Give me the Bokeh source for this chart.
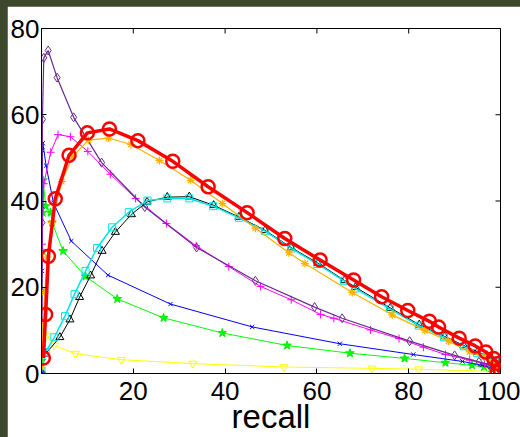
import math
from bokeh.plotting import figure
from bokeh.models import Range1d, FixedTicker, GlobalInlineStyleSheet
from bokeh.embed import file_html
from bokeh.resources import INLINE

# ---- data (recall %, precision %) ----
red_x = [0.4, 0.9, 1.5, 3.0, 6.0, 10.0, 14.8, 21.0, 28.6, 36.3, 44.8, 53.0, 60.7, 68.0, 74.1, 79.8, 84.5, 86.5, 91.0, 94.5, 96.8, 98.5, 99.5, 100.0, 99.3]
red_y = [3.6, 13.7, 27.2, 40.5, 50.6, 55.8, 56.7, 54.0, 49.2, 43.3, 37.3, 31.3, 26.3, 21.7, 17.8, 14.6, 12.1, 10.8, 8.2, 6.4, 5.0, 3.5, 2.3, 0.8, 0.3]

orange_x = [0.0, 0.1, 0.4, 0.7, 1.3, 2.3, 4.4, 6.8, 10.2, 14.6, 19.5, 25.7, 32.5, 39.4, 46.6, 53.9, 57.4, 67.7, 76.4, 83.5, 88.7, 93.3, 96.4, 98.5, 99.5]
orange_y = [1.4, 5.0, 11.1, 18.8, 27.0, 35.0, 44.5, 50.3, 54.1, 54.6, 53.1, 49.4, 44.8, 39.4, 33.7, 28.0, 25.5, 18.8, 13.6, 10.0, 7.5, 5.0, 3.8, 2.7, 1.5]

cyan_x = [0.0, 0.9, 2.8, 5.1, 7.2, 9.6, 12.1, 15.4, 19.0, 23.1, 27.4, 32.2, 37.4, 43.0, 48.7, 54.4, 60.1, 65.9, 68.4, 75.9, 82.2, 87.7, 92.0, 94.9, 97.1, 98.8, 99.5]
cyan_y = [0.5, 5.0, 8.4, 13.3, 18.4, 23.8, 29.1, 33.9, 37.4, 40.1, 40.6, 40.6, 38.8, 36.1, 33.0, 29.0, 25.4, 21.5, 19.7, 15.0, 11.1, 8.4, 6.3, 4.8, 4.0, 2.7, 1.5]

black_x = [0.0, 0.9, 4.0, 6.2, 8.3, 10.7, 13.2, 16.1, 19.6, 23.0, 27.4, 32.2, 37.5, 43.0, 48.7, 54.4, 60.2, 66.0, 68.4, 76.0, 82.3, 87.8, 92.0, 95.0, 97.0, 98.8, 99.5]
black_y = [0.5, 4.6, 8.4, 12.5, 17.7, 22.7, 28.4, 32.8, 36.9, 39.8, 40.9, 41.0, 39.0, 36.3, 33.2, 29.2, 25.6, 21.6, 20.0, 15.2, 11.3, 8.6, 6.5, 5.0, 4.1, 2.8, 1.5]

purple_x = [0.0, 0.1, 0.2, 0.5, 1.45, 3.4, 7.0, 13.1, 22.5, 33.8, 46.6, 59.5, 65.5, 80.2, 90.0, 95.3, 97.5, 98.5]
purple_y = [0.0, 35.0, 58.9, 73.2, 74.9, 68.6, 59.4, 48.9, 38.6, 29.2, 21.5, 15.4, 12.8, 7.5, 4.2, 2.7, 2.0, 1.2]

magenta_x = [0.0, 0.1, 0.5, 2.0, 3.6, 6.3, 10.1, 15.0, 20.5, 27.2, 33.7, 40.8, 47.7, 54.4, 60.8, 63.7, 71.7, 77.9, 83.2, 88.0, 93.3, 96.5, 98.5]
magenta_y = [0.0, 30.0, 44.0, 51.3, 55.4, 54.9, 51.5, 46.2, 40.6, 34.8, 29.6, 24.8, 20.2, 17.1, 13.7, 12.8, 10.1, 8.1, 6.1, 4.4, 3.1, 2.3, 1.5]

blue_x = [0.0, 0.1, 0.15, 0.2, 0.3, 1.0, 2.6, 6.5, 14.5, 28.1, 45.9, 65.0, 81.0, 91.7, 96.0, 98.5]
blue_y = [0.0, 23.8, 38.8, 51.7, 53.4, 48.2, 39.6, 30.7, 22.8, 16.1, 10.8, 6.9, 4.4, 2.8, 1.9, 1.2]

green_x = [0.0, 0.0, 0.05, 0.1, 0.2, 0.25, 0.35, 0.9, 2.0, 2.3, 4.7, 9.6, 16.5, 26.6, 39.4, 53.5, 67.2, 79.1, 88.0, 93.8, 96.4, 98.0]
green_y = [0.0, 3.0, 6.1, 19.2, 28.4, 37.3, 44.8, 38.8, 37.3, 35.0, 28.4, 22.5, 17.3, 12.9, 9.4, 6.5, 4.7, 3.5, 2.5, 1.9, 1.5, 1.2]

yellow_x = [0.0, 0.4, 1.1, 2.8, 7.4, 17.4, 33.0, 52.8, 72.0, 82.2, 97.5]
yellow_y = [16.4, 13.4, 8.8, 6.5, 4.6, 3.2, 2.3, 1.5, 1.2, 1.0, 0.5]

x_ticks = [20, 40, 60, 80, 100]
y_ticks = [0, 20, 40, 60, 80]
x_label = "recall"

X_MIN, X_MAX, Y_MIN, Y_MAX = 0, 100, 0, 80
FONT = "Liberation Sans"

p = figure(width=513, height=431, x_range=Range1d(X_MIN, X_MAX), y_range=Range1d(Y_MIN, Y_MAX),
           output_backend="svg", toolbar_location=None,
           min_border_left=34, min_border_right=20, min_border_top=22, min_border_bottom=56)
p.stylesheets = [GlobalInlineStyleSheet(
    css="html { background-color: #3c472b; overflow: hidden; } "
        "body { background-color: #3c472b; margin: 6px 0 0 7px; padding: 0; overflow: hidden; }")]
p.grid.visible = False
p.outline_line_color = "black"
p.outline_line_width = 1
p.background_fill_color = "white"
p.border_fill_color = "white"

for ax in (p.xaxis[0], p.yaxis[0]):
    ax.axis_line_color = "black"
    ax.major_tick_in = 5
    ax.major_tick_out = 0
    ax.minor_tick_line_color = None
    ax.major_tick_line_color = "black"
    ax.major_label_text_font = FONT
    ax.major_label_text_font_size = "26px"
    ax.major_label_text_color = "black"

p.xaxis.ticker = FixedTicker(ticks=x_ticks)
p.yaxis.ticker = FixedTicker(ticks=y_ticks)
p.xaxis.major_label_standoff = 8
p.yaxis.major_label_standoff = 2
p.xaxis.axis_label = x_label
p.xaxis.axis_label_text_font = FONT
p.xaxis.axis_label_text_font_size = "33px"
p.xaxis.axis_label_text_font_style = "normal"
p.xaxis.axis_label_text_color = "black"
p.xaxis.axis_label_standoff = -5

# inward tick marks on the top and right edges of the box (clipped to the frame)
p.scatter(x_ticks, [Y_MAX] * len(x_ticks), marker="dash", angle=math.pi / 2, size=10,
          line_color="black", line_width=1)
p.scatter([X_MAX] * len(y_ticks), y_ticks, marker="dash", size=10,
          line_color="black", line_width=1)

# series (drawn bottom to top)
p.line(yellow_x, yellow_y, color="#FFFF00", line_width=1)
p.scatter(yellow_x, yellow_y, marker="inverted_triangle", size=8, line_color="#FFFF00", fill_color=None, line_width=1)

p.line(green_x, green_y, color="#00FF00", line_width=1)
p.scatter(green_x, green_y, marker="star", size=9, line_color="#00EE00", fill_color="#00FF00", line_width=1)

p.line(blue_x, blue_y, color="#0000FF", line_width=1)
p.scatter(blue_x, blue_y, marker="x", size=6, line_color="#0000FF", line_width=1)

p.line(magenta_x, magenta_y, color="#FF00FF", line_width=1)
p.scatter(magenta_x, magenta_y, marker="cross", size=8, line_color="#FF00FF", line_width=1)

p.line(purple_x, purple_y, color="#6A2A8E", line_width=1.2)
p.scatter(purple_x, purple_y, marker="diamond", size=9, line_color="#6A2A8E", fill_color=None, line_width=1)

p.line(black_x, black_y, color="black", line_width=1)
p.scatter(black_x, black_y, marker="triangle", size=8, line_color="black", fill_color=None, line_width=1)

p.line(cyan_x, cyan_y, color="#00E5E5", line_width=1.5)
p.scatter(cyan_x, cyan_y, marker="square", size=7, line_color="#00E5E5", fill_color=None, line_width=1)

p.line(orange_x, orange_y, color="#FFB000", line_width=1.2)
p.scatter(orange_x, orange_y, marker="asterisk", size=8, line_color="#FFB000", line_width=1.2)

p.line(red_x, red_y, color="#FF0000", line_width=3.5)
p.scatter(red_x, red_y, marker="circle", size=13, line_color="#FF0000", fill_color=None, line_width=2.5)

open("out.html", "w").write(file_html(p, INLINE))
